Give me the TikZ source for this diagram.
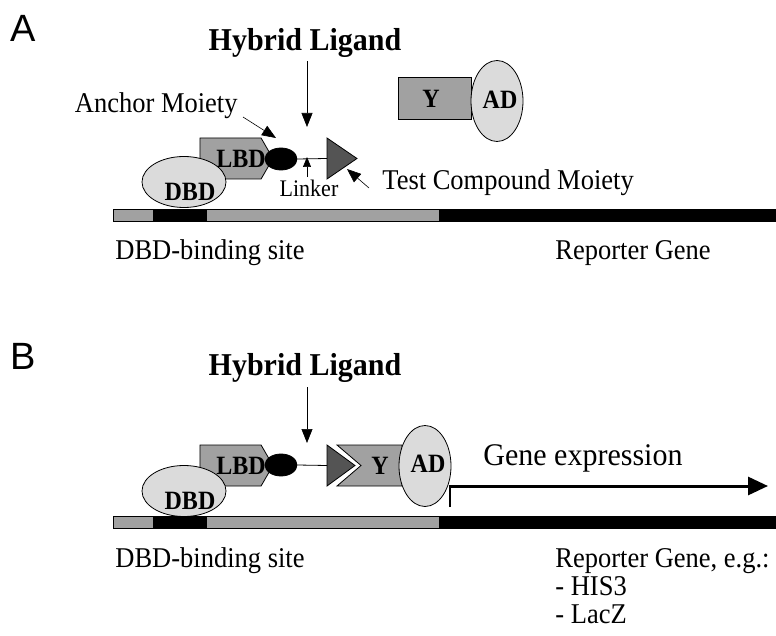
\documentclass[tikz,border=0pt]{standalone}
\usepackage{fontspec}
\setmainfont{Liberation Serif}
\newfontfamily\panelfont{Liberation Sans}
\usetikzlibrary{arrows.meta,positioning,shapes.geometric,shapes.symbols}

\begin{document}
\begin{tikzpicture}[x=1pt, y=-1pt, line width=0.8pt, >={Triangle[length=14pt,width=11pt]},
             panel/.style = {inner sep=0pt, font=\panelfont\fontsize{38}{40}\selectfont},
             title/.style = {inner sep=0pt, yscale=1.06, font=\fontsize{30}{34}\selectfont\bfseries},
               lbl/.style = {inner sep=0pt, yscale=1.08, font=\fontsize{26.5}{30}\selectfont},
            bigtxt/.style = {inner sep=0pt, yscale=1.05, font=\fontsize{30}{34}\selectfont},
           linktxt/.style = {inner sep=0pt, yscale=1.08, font=\fontsize{22}{26}\selectfont},
             inlbl/.style = {inner sep=0pt, yscale=1.1, font=\fontsize{24}{26}\selectfont\bfseries},
            lbdbox/.style = {draw, fill=black!37, signal, signal to=east, signal pointer angle=120,
                             minimum width=73pt, minimum height=41pt, inner sep=0pt},
            dbdell/.style = {draw, fill=black!14, ellipse, minimum width=84pt, minimum height=51pt, inner sep=0pt},
             adell/.style = {draw, fill=black!14, ellipse, minimum width=52pt, minimum height=81pt, inner sep=0pt},
            moiety/.style = {draw, fill=black, ellipse, minimum width=32pt, minimum height=22pt, inner sep=0pt},
              ybox/.style = {draw, fill=black!37, rectangle, minimum width=73pt, minimum height=42pt, inner sep=0pt},
               ptr/.style = {->, line width=0.6pt},
]
\useasboundingbox (0,0) rectangle (776,636);

%% panel A
\node[panel, anchor=base west] (labA)  at (10,42)   {A};
\node[title, anchor=base]      (hybA)  at (305,51)  {Hybrid Ligand};
\coordinate (hybtipA) at (307,127);
\draw[ptr, shorten <=3pt] (hybA.south -| hybtipA) -- (hybtipA);

\node[ybox]  (yA)   at (434.5,98) {};
\node[inlbl] (ytA)  at (431,99)   {Y};
\node[adell] (adA)  at (497,101)  {};
\node[inlbl] (adtA) at (500,100)  {AD};

\node[lbdbox] (lbdA)  at (230.5,158.5) {};
\node[inlbl]  (lbdtA) at (241,159)     {LBD};
\node[moiety] (ancA)  at (281,159)     {};
\coordinate (tstA) at (327,158.5);
\draw[fill=black!67] (tstA) ++(0,-20.5) -- ++(30,20.5) -- ++(-30,20.5) -- cycle;
\draw (ancA.east) -- (tstA);
\node[dbdell] (dbdA)  at (184,182) {};
\node[inlbl]  (dbdtA) at (190,192) {DBD};

%% DNA A
\draw[fill=black!37] (113,209) rectangle (776,221);
\draw[fill=black] (153,209) rectangle (206,221);
\draw[fill=black] (439,209) rectangle (776,221);

%% labels A
\node[lbl, anchor=base east]  (anclA) at (238,113) {Anchor Moiety};
\coordinate (anctipA) at (276,138);
\draw[ptr] ([shift={(5,4)}]anclA.base east) -- (anctipA);
\node[linktxt, anchor=base]   (lnklA) at (309,197) {Linker};
\coordinate (lnktipA) at (307,157);
\draw[->, >={Triangle[length=10pt,width=8pt]}, line width=0.6pt, shorten <=3pt] (lnklA.north -| lnktipA) -- (lnktipA);
\node[lbl, anchor=base west]  (tstlA) at (382,190) {Test Compound Moiety};
\coordinate (tsttipA) at (347,169);
\draw[ptr] ([shift={(-13,-2)}]tstlA.base west) -- (tsttipA);
\node[lbl, anchor=base west]  (dbsA)  at (115,260) {DBD-binding site};
\node[lbl, anchor=base west]  (repA)  at (555,260) {Reporter Gene};

%% panel B
\node[panel, anchor=base west] (labB)  at (10,369)  {B};
\node[title, anchor=base]      (hybB)  at (305,375) {Hybrid Ligand};
\coordinate (hybtipB) at (307,443);
\draw[ptr, shorten <=5pt] (hybB.south -| hybtipB) -- (hybtipB);

\node[lbdbox] (lbdB)  at (230.5,465.5) {};
\node[inlbl]  (lbdtB) at (241,466)     {LBD};
\node[moiety] (ancB)  at (281,465)     {};
\coordinate (tstB) at (327,465.5);
\draw[fill=black!67] (tstB) ++(0,-20.5) -- ++(28,20.5) -- ++(-28,20.5) -- cycle;
\draw (ancB.east) -- (tstB);
\draw[fill=black!37] (337,445) -- (402,445) -- (402,486) -- (337,486) -- (361,465.5) -- cycle;
\node[inlbl]  (ytB)   at (380,466) {Y};
\node[adell]  (adB)   at (425,466) {};
\node[inlbl]  (adtB)  at (428,464) {AD};
\node[dbdell] (dbdB)  at (184,491) {};
\node[inlbl]  (dbdtB) at (190,501) {DBD};

%% DNA B
\draw[fill=black!37] (113,516) rectangle (776,528);
\draw[fill=black] (153,516) rectangle (206,528);
\draw[fill=black] (439,516) rectangle (776,528);

%% transcription
\coordinate (tickB) at (450,507);
\coordinate (tssB)  at (450,486);
\coordinate (endB)  at (768,486);
\draw[line width=2.5pt] (tickB) -- (tssB);
\draw[line width=3pt, -{Triangle[length=20pt,width=18pt]}] ([xshift=-1.25pt]tssB) -- (endB);
\node[bigtxt, anchor=base west] (genB) at (483,465) {Gene expression};

%% labels B
\node[lbl, anchor=base west] (dbsB) at (115,567) {DBD-binding site};
\node[lbl, anchor=base west] (repB) at (555,567) {Reporter Gene, e.g.:};
\node[lbl, anchor=base west] (hisB) at (555,595) {- HIS3};
\node[lbl, anchor=base west] (lacB) at (555,623) {- LacZ};
\end{tikzpicture}
\end{document}
